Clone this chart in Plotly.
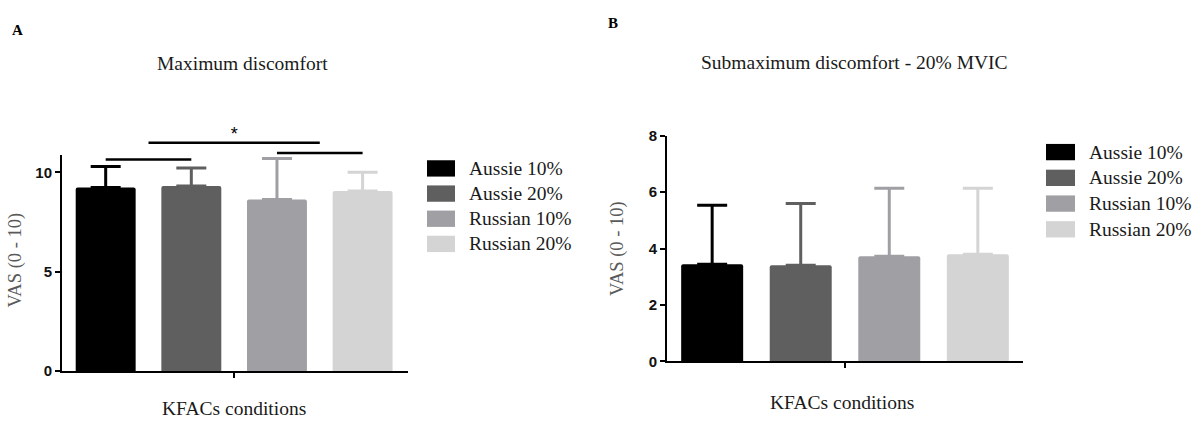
import plotly.graph_objects as go

# ---------------- data ----------------
groups = ["Aussie 10%", "Aussie 20%", "Russian 10%", "Russian 20%"]
colors = ["#000000", "#5f5f5f", "#a0a0a4", "#d4d4d4"]

max_mean = [9.23, 9.31, 8.63, 9.06]
max_sd = [1.06, 0.90, 2.06, 0.94]

sub_mean = [3.45, 3.41, 3.73, 3.80]
sub_sd = [2.09, 2.19, 2.41, 2.34]

sig_x0 = [0, 0.5, 2]
sig_x1 = [1, 2.5, 3]
sig_y = [10.64, 11.48, 10.97]
star_x = [1.5]
star_y = [11.84]
star_text = ["*"]

titles = ["Maximum discomfort", "Submaximum discomfort - 20% MVIC"]
panel_letters = ["A", "B"]
y_title = "VAS (0 - 10)"
x_title = "KFACs conditions"

A_ticks = [0, 5, 10]
B_ticks = [0, 2, 4, 6, 8]

# ---------------- layout helpers ----------------
W, H = 1198, 429
def px(x):
    return x / W
def py(y):
    return 1 - y / H

SERIF = "Liberation Serif"
SANS = "Liberation Sans"

A_dom_x = [px(62), px(408)]
A_dom_y = [py(377), py(152)]
A_top = 10.87
B_dom_x = [px(667), px(1023)]
B_dom_y = [py(367), py(132)]
B_top = 8

pos = list(range(len(groups)))

fig = go.Figure()

for i, g in enumerate(groups):
    fig.add_trace(go.Bar(
        x=[pos[i]], y=[max_mean[i]], width=0.7, name=g,
        marker=dict(color=colors[i], line=dict(width=0), cornerradius=2),
        error_y=dict(type="data", symmetric=False, array=[max_sd[i]], arrayminus=[0],
                     color=colors[i], thickness=3, width=15),
        xaxis="x", yaxis="y", showlegend=False))
    fig.add_trace(go.Bar(
        x=[pos[i]], y=[sub_mean[i]], width=0.7, name=g,
        marker=dict(color=colors[i], line=dict(width=0), cornerradius=2),
        error_y=dict(type="data", symmetric=False, array=[sub_sd[i]], arrayminus=[0],
                     color=colors[i], thickness=3, width=15),
        xaxis="x2", yaxis="y2", showlegend=False))

# significance brackets on an invisible overlay axis sharing the same scale
ov_top_dom = 0.80
ov_range_top = A_top * (ov_top_dom - A_dom_y[0]) / (A_dom_y[1] - A_dom_y[0])
for a, b, yv in zip(sig_x0, sig_x1, sig_y):
    fig.add_trace(go.Scatter(x=[a, b], y=[yv, yv], mode="lines",
                             line=dict(color="#000000", width=2.5),
                             xaxis="x", yaxis="y3", showlegend=False, hoverinfo="skip"))
fig.add_trace(go.Scatter(x=star_x, y=star_y, mode="text", text=star_text,
                         textfont=dict(family=SANS, size=18, color="#000"),
                         xaxis="x", yaxis="y3", showlegend=False, cliponaxis=False))

axis_common = dict(showline=True, linecolor="#000000", linewidth=2, ticks="outside",
                   tickwidth=2, tickcolor="#000000", ticklen=5, showgrid=False,
                   zeroline=False)
tickfont = dict(family=SANS, size=15, color="#111111", weight="bold")

fig.update_layout(
    width=W, height=H, margin=dict(l=0, r=0, t=0, b=0),
    paper_bgcolor="white", plot_bgcolor="rgba(0,0,0,0)", barmode="overlay",
    xaxis=dict(domain=A_dom_x, range=[-0.51, 3.53], anchor="y", tickvals=[1.5],
               ticktext=[""], **axis_common),
    yaxis=dict(domain=A_dom_y, range=[0, A_top], anchor="x", tickvals=A_ticks,
               tickfont=tickfont, **axis_common),
    yaxis3=dict(domain=[A_dom_y[0], ov_top_dom], range=[0, ov_range_top], anchor="x",
                visible=False, fixedrange=True),
    xaxis2=dict(domain=B_dom_x, range=[-0.51, 3.51], anchor="y2", tickvals=[1.5],
                ticktext=[""], **axis_common),
    yaxis2=dict(domain=B_dom_y, range=[0, B_top], anchor="x2", tickvals=B_ticks,
                tickfont=tickfont, **axis_common),
)

ann = []
shapes = []
TFS = 19.5
# panel letters
ann.append(dict(x=px(10), y=py(22), text="<b>" + panel_letters[0] + "</b>", xanchor="left",
                yanchor="middle", font=dict(family=SERIF, size=15, color="#000")))
ann.append(dict(x=px(606), y=py(15), text="<b>" + panel_letters[1] + "</b>", xanchor="left",
                yanchor="middle", font=dict(family=SERIF, size=15, color="#000")))
# titles
ann.append(dict(x=px(242), y=py(57), text=titles[0], xanchor="center", yanchor="middle",
                font=dict(family=SERIF, size=TFS, color="#1a1a1a")))
ann.append(dict(x=px(854), y=py(56), text=titles[1], xanchor="center", yanchor="middle",
                font=dict(family=SERIF, size=TFS, color="#1a1a1a")))
# y titles
ann.append(dict(x=px(16), y=py(262), text=y_title, textangle=-90, xanchor="center",
                yanchor="middle", font=dict(family=SERIF, size=18.5, color="#5a5a5a")))
ann.append(dict(x=px(617), y=py(250), text=y_title, textangle=-90, xanchor="center",
                yanchor="middle", font=dict(family=SERIF, size=18.5, color="#5a5a5a")))
# x titles
ann.append(dict(x=px(234), y=py(416), text=x_title, xanchor="center", yanchor="middle",
                font=dict(family=SERIF, size=TFS, color="#1a1a1a")))
ann.append(dict(x=px(842), y=py(410), text=x_title, xanchor="center", yanchor="middle",
                font=dict(family=SERIF, size=TFS, color="#1a1a1a")))

# legends
legends = [dict(bx0=427, bx1=455, tx=467, y0=166, dy=26.2),
           dict(bx0=1046, bx1=1075, tx=1087, y0=149, dy=26.8)]
for L in legends:
    for i, g in enumerate(groups):
        yc = L["y0"] + i * L["dy"]
        shapes.append(dict(type="rect", xref="paper", yref="paper",
                           x0=px(L["bx0"]), x1=px(L["bx1"]), y0=py(yc + 8.5), y1=py(yc - 8.5),
                           fillcolor=colors[i], line=dict(width=0)))
        ann.append(dict(x=px(L["tx"]), y=py(yc), text=g, xanchor="left", yanchor="middle",
                        font=dict(family=SERIF, size=TFS, color="#1a1a1a")))

for a in ann:
    a.setdefault("xref", "paper")
    a.setdefault("yref", "paper")
    a.setdefault("showarrow", False)

fig.update_layout(annotations=ann, shapes=shapes)
fig.write_html("out.html", config={"displayModeBar": False},
               post_script="document.body.style.margin='0';document.body.style.overflow='hidden';")
